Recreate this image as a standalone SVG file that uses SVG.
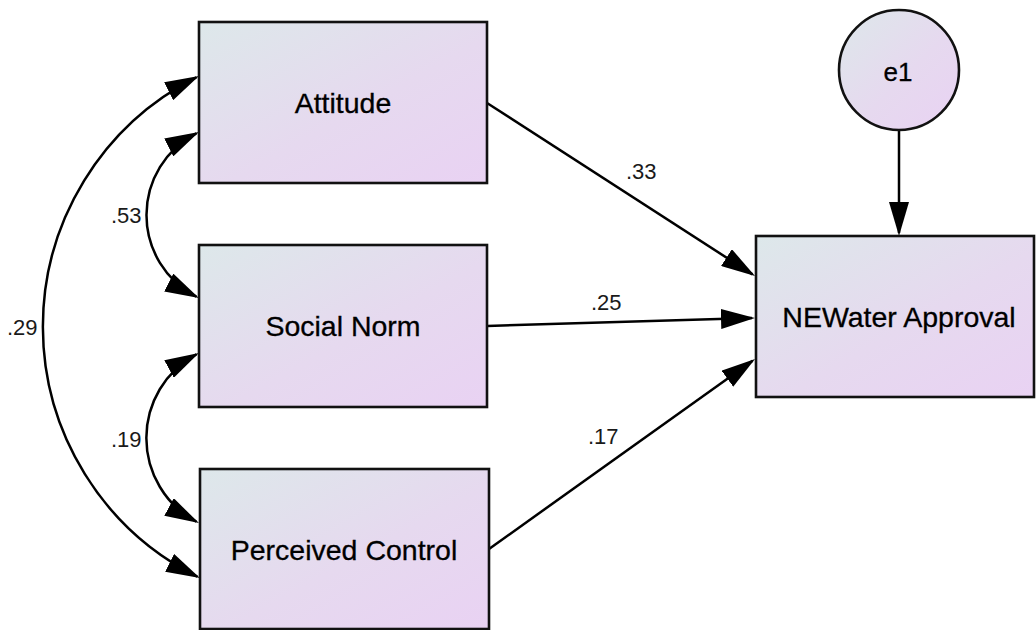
<svg xmlns="http://www.w3.org/2000/svg" width="1036" height="630" viewBox="0 0 1036 630">
  <style>
    .box { stroke: #111; stroke-width: 2.6; }
    .lbl { font-family: "Liberation Sans", Arial, sans-serif; font-size: 28.5px; fill: #000; stroke: #000; stroke-width: 0.3; text-anchor: middle; }
    .num { font-family: "Liberation Sans", Arial, sans-serif; font-size: 22px; fill: #1a1a1a; }
    .edge { fill: none; stroke: #000; stroke-width: 2.5; }
  </style>
  <defs>
    <linearGradient id="fillGrad" x1="0" y1="0" x2="1" y2="1">
      <stop offset="0" stop-color="#dde8ea"/>
      <stop offset="0.55" stop-color="#e6d9ef"/>
      <stop offset="1" stop-color="#e9d2f3"/>
    </linearGradient>
    <marker id="arr" markerUnits="userSpaceOnUse" viewBox="0 0 34 20" markerWidth="34" markerHeight="20" refX="31" refY="10" orient="auto">
      <path d="M0,0 L34,10 L0,20 z" fill="#000"/>
    </marker>
    <marker id="arrS" markerUnits="userSpaceOnUse" viewBox="0 0 34 20" markerWidth="34" markerHeight="20" refX="31" refY="10" orient="auto-start-reverse">
      <path d="M0,0 L34,10 L0,20 z" fill="#000"/>
    </marker>
  </defs>
  <rect width="1036" height="630" fill="#fff"/>

  <g id="connectors">
    <path class="edge" d="M487,103 L752.5,274.4" marker-end="url(#arr)"/>
    <path class="edge" d="M487,326 L752,318.1" marker-end="url(#arr)"/>
    <path class="edge" d="M489,549 L752.6,360.7" marker-end="url(#arr)"/>
    <path class="edge" d="M899,130 L899,233" marker-end="url(#arr)"/>
    <path class="edge" d="M196.3,133.3 A91.9,91.9 0 0 0 196.3,296.7" marker-start="url(#arrS)" marker-end="url(#arr)"/>
    <path class="edge" d="M196.3,354.3 A95.1,95.1 0 0 0 196.3,521.7" marker-start="url(#arrS)" marker-end="url(#arr)"/>
    <path class="edge" d="M196.3,77.3 A279.5,279.5 0 0 0 197.3,576.7" marker-start="url(#arrS)" marker-end="url(#arr)"/>
    <text class="num" x="626" y="179">.33</text>
    <text class="num" x="591" y="310">.25</text>
    <text class="num" x="588" y="444">.17</text>
    <text class="num" x="111" y="222.5">.53</text>
    <text class="num" x="111" y="446.5">.19</text>
    <text class="num" x="7" y="335">.29</text>
  </g>

  <g id="attitude">
    <rect class="box" x="199" y="22" width="288" height="161" fill="url(#fillGrad)"/>
    <text class="lbl" x="343" y="113">Attitude</text>
  </g>
  <g id="social-norm">
    <rect class="box" x="199" y="245" width="288" height="162" fill="url(#fillGrad)"/>
    <text class="lbl" x="343" y="336">Social Norm</text>
  </g>
  <g id="perceived-control">
    <rect class="box" x="200" y="469" width="289" height="160" fill="url(#fillGrad)"/>
    <text class="lbl" x="344" y="560">Perceived Control</text>
  </g>
  <g id="newater-approval">
    <rect class="box" x="756" y="236" width="278" height="161" fill="url(#fillGrad)"/>
    <text class="lbl" x="899" y="327">NEWater Approval</text>
  </g>
  <g id="e1">
    <circle class="box" cx="899" cy="70" r="60" fill="url(#fillGrad)"/>
    <text class="lbl" x="898" y="81" style="font-size:26px">e1</text>
  </g>
</svg>
